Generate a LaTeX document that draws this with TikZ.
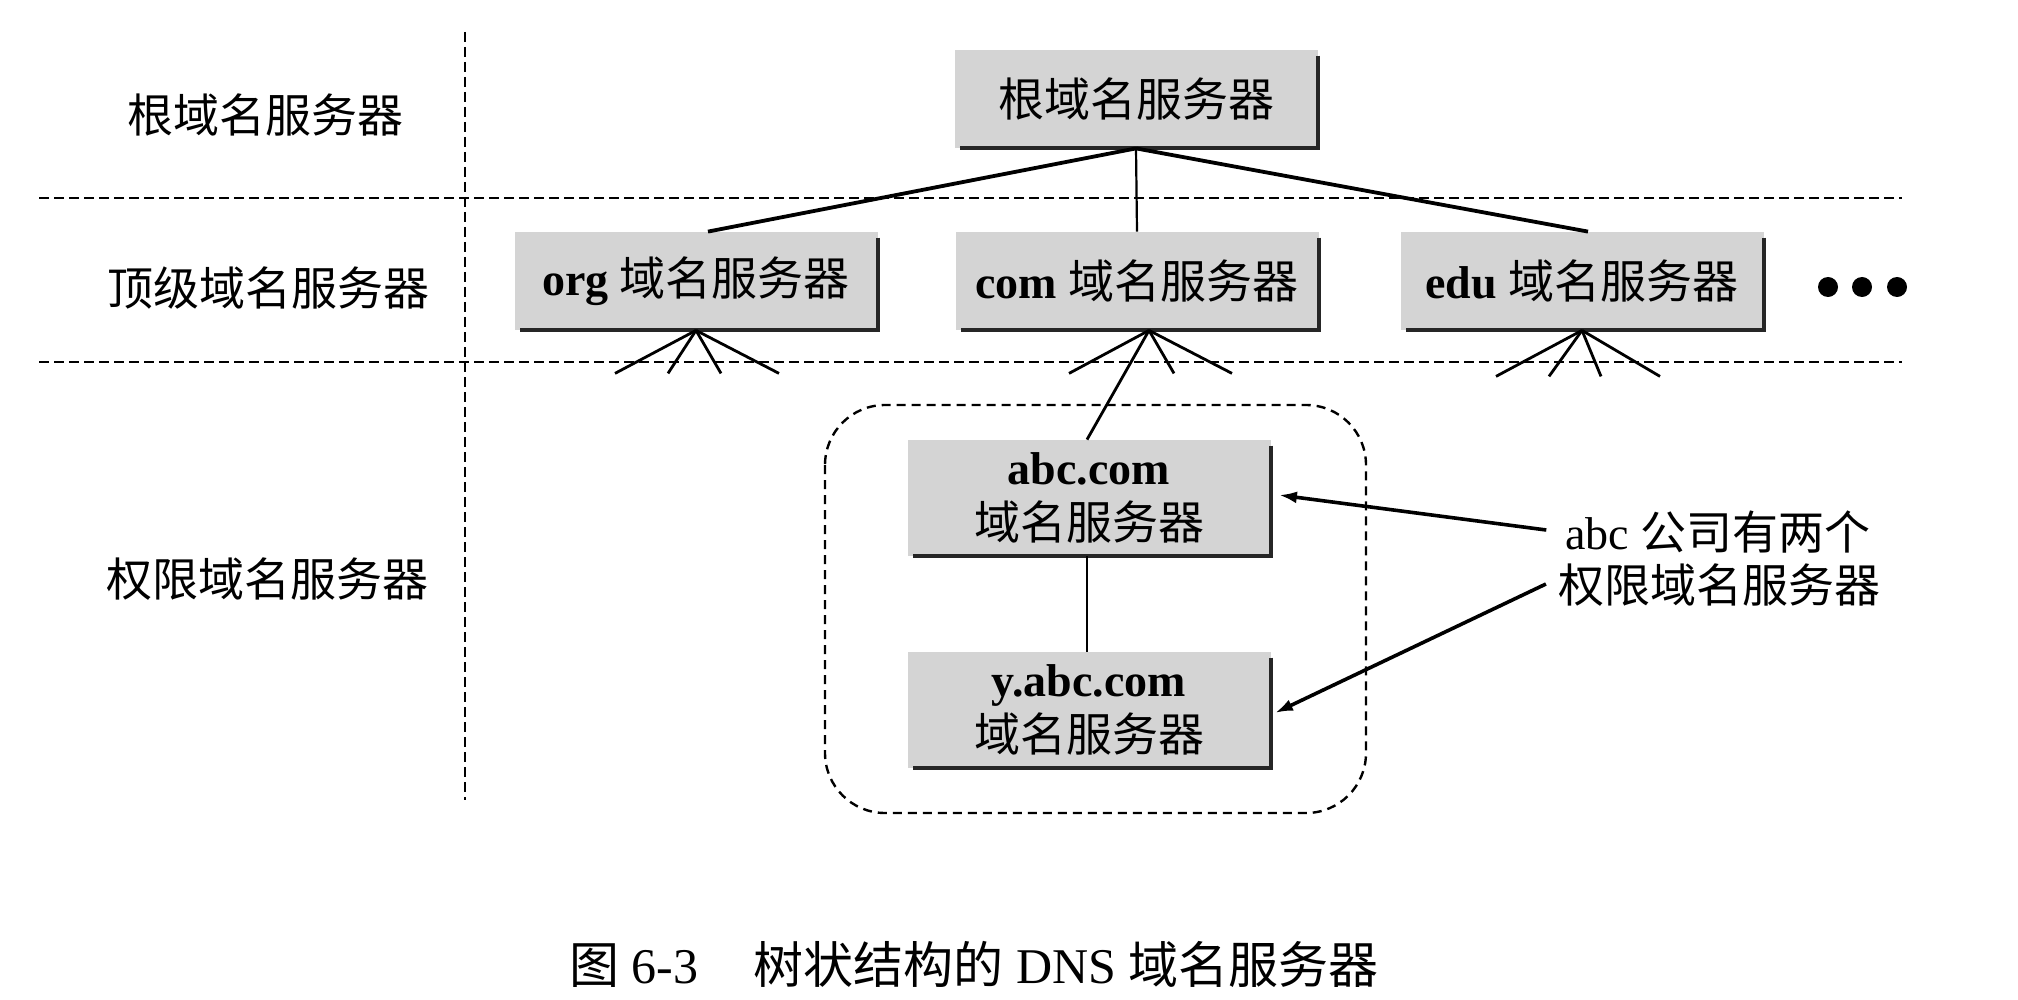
\documentclass[tikz,border=0pt]{standalone}
\usepackage{fontspec}
\setmainfont{Liberation Serif}
\newfontfamily\cjk{Noto Sans CJK SC}
\newcommand\zh[1]{{\cjk #1}}
\usetikzlibrary{arrows.meta}
\begin{document}
\begin{tikzpicture}[x=0.5pt,y=-0.5pt,
  srv/.style={fill=black!17, minimum width=181.5pt, minimum height=49pt, inner sep=0pt,
    font=\fontsize{23}{27.5}\selectfont, align=center},
  shadowline/.style={line width=2pt, black!85},
  sepline/.style={dash pattern=on 5pt off 2.5pt, line width=1.3pt},
  grpline/.style={dash pattern=on 4.5pt off 3pt, line width=1.2pt},
  link/.style={line width=1.9pt},
  fan/.style={line width=1.4pt},
  arr/.style={line width=1.8pt, -{Latex[length=9pt,width=6pt]}},
  lbl/.style={font=\fontsize{23}{29.5}\selectfont}]

\useasboundingbox (0,0) rectangle (2018,1000);

% separators
\draw[sepline] (39,198) -- (1902,198);
\draw[sepline] (39,362) -- (1902,362);
\draw[sepline] (465,32) -- (465,800);

% level labels
\node[lbl] (l1) at (265,115) {\zh{根域名服务器}};
\node[lbl] (l2) at (268,288) {\zh{顶级域名服务器}};
\node[lbl] (l3) at (267,579) {\zh{权限域名服务器}};

% servers
\node[srv] (root) at (1136,99) {\zh{根域名服务器}};
\node[srv] (org) at (696,281) {\textbf{org} \zh{域名服务器}};
\node[srv] (com) at (1137,281) {\textbf{com} \zh{域名服务器}};
\node[srv] (edu) at (1582,281) {\textbf{edu} \zh{域名服务器}};
\node[srv, minimum height=58pt] (abc) at (1089,498) {\textbf{abc.com}\\\zh{域名服务器}};
\node[srv, minimum height=58pt] (yabc) at (1089,710) {\textbf{y.abc.com}\\\zh{域名服务器}};

\foreach \n in {root,org,com,edu,abc,yabc}
  \draw[shadowline] ([yshift=-3pt]\n.north east) -- (\n.south east) -- ([xshift=3pt]\n.south west);

% dots
\fill (1828,287) circle (5pt) (1862,287) circle (5pt) (1897,287) circle (5pt);

% root links
\draw[link] (root.south) -- ([xshift=6pt]org.north);
\draw[line width=1.1pt] (root.south) -- (com.north);
\draw[link] (root.south) -- ([xshift=3pt]edu.north);

% fans
\foreach \dx in {-81,-28,25,83}
  \draw[fan] (org.south) -- ++(\dx,43) coordinate (forg\dx);
\foreach \dx in {-80,25,83}
  \draw[fan] ([xshift=6pt]com.south) -- ++(\dx,43) coordinate (fcom\dx);
\foreach \dx in {-86,-33,19,78}
  \draw[fan] (edu.south) -- ++(\dx,46) coordinate (fedu\dx);
\draw[fan] ([xshift=6pt]com.south) -- ([xshift=-1pt]abc.north);
\draw[line width=0.9pt] ([xshift=-1pt]abc.south) -- ([xshift=-1pt]yabc.north);

% group
\draw[grpline, rounded corners=30pt] (825,405) rectangle (1366,813);

% note
\node[lbl] (n1) at (1718,532) {abc \zh{公司有两个}};
\node[lbl] (n2) at (1719,585) {\zh{权限域名服务器}};
\draw[arr] ([xshift=-6pt,yshift=1pt]n1.west) -- ([xshift=4pt,yshift=1.5pt]abc.east);
\draw[arr] ([xshift=-2.5pt,yshift=0.5pt]n2.west) -- ([xshift=2pt,yshift=-1.5pt]yabc.east);

% caption
\node[font=\fontsize{25}{30}\selectfont] (cap) at (974,964) {\zh{图} 6-3\hspace{1.1em}\zh{树状结构的} DNS \zh{域名服务器}};
\end{tikzpicture}
\end{document}
